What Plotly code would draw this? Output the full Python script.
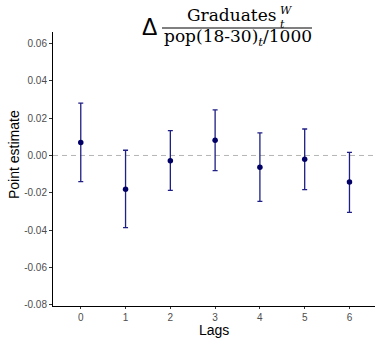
import plotly.graph_objects as go

lags = [0, 1, 2, 3, 4, 5, 6]
estimate = [0.0069, -0.0181, -0.0028, 0.0081, -0.0063, -0.0020, -0.0142]
upper = [0.0281, 0.0028, 0.0133, 0.0244, 0.0121, 0.0142, 0.0017]
lower = [-0.0140, -0.0387, -0.0187, -0.0081, -0.0246, -0.0183, -0.0305]
ytick_vals = [-0.08, -0.06, -0.04, -0.02, 0.00, 0.02, 0.04, 0.06]
ytick_text = ["-0.08", "-0.06", "-0.04", "-0.02", "0.00", "0.02", "0.04", "0.06"]

W, H = 375, 338
L, R, T, B = 53, 0, 32, 32
PW, PH = W - L - R, H - T - B

def px(x):
    return (x - L) / PW

def py(y):
    return (H - B - y) / PH

err_plus = [u - e for u, e in zip(upper, estimate)]
err_minus = [e - l for e, l in zip(estimate, lower)]

fig = go.Figure()
fig.add_trace(go.Scatter(
    x=lags, y=estimate, mode="markers",
    marker=dict(color="#000066", size=5.5),
    error_y=dict(type="data", symmetric=False, array=err_plus, arrayminus=err_minus,
                 color="#1f1f85", thickness=1.3, width=2.5),
    showlegend=False, cliponaxis=False,
))

fig.add_shape(type="line", xref="paper", yref="y", x0=0, x1=1, y0=0, y1=0,
              line=dict(color="#b5b5b5", width=1, dash="5px,4px"), layer="below")

title_font = "DejaVu Serif"
ann = []
ann.append(dict(text="Δ", x=px(149.5), y=py(26.5), xanchor="center",
                font=dict(family="Liberation Sans", size=23, color="black")))
ann.append(dict(text="Graduates", x=px(231.5), y=py(15), xanchor="center",
                font=dict(family=title_font, size=17, color="black")))
ann.append(dict(text="<i>W</i><br><i>t</i>", x=px(277.5), y=py(17), xanchor="left", align="left",
                font=dict(family=title_font, size=11, color="black")))
ann.append(dict(text="pop(18-30)<sub><i>t</i></sub>/1000", x=px(237.5), y=py(37.5), xanchor="center",
                font=dict(family=title_font, size=17, color="black")))
# axis titles
ann.append(dict(text="Lags", x=px(214), y=py(330), xanchor="center", borderpad=0,
                font=dict(family="Liberation Sans", size=14, color="black")))
ann.append(dict(text="Point estimate", x=px(14), y=py(155), xanchor="center", textangle=-90,
                font=dict(family="Liberation Sans", size=14, color="black")))
for a in ann:
    a.update(xref="paper", yref="paper", showarrow=False, yanchor="middle")
fig.add_shape(type="line", xref="paper", yref="paper", x0=px(162), x1=px(312), y0=py(28), y1=py(28),
              line=dict(color="black", width=1))

fig.update_layout(
    width=W, height=H,
    margin=dict(l=L, r=R, t=T, b=B, autoexpand=False),
    paper_bgcolor="white", plot_bgcolor="white",
    annotations=ann,
    font=dict(family="Liberation Sans"),
    xaxis=dict(
        range=[-0.62, 6.57], tickvals=lags, ticktext=[str(v) for v in lags],
        showline=True, linecolor="black", linewidth=1, mirror=False,
        ticks="outside", ticklen=2, tickcolor="#333333", tickwidth=1,
        showgrid=False, zeroline=False, automargin=False,
        tickfont=dict(size=10, color="#4d4d4d"),
    ),
    yaxis=dict(
        range=[-0.0807, 0.0662], tickvals=ytick_vals, ticktext=ytick_text,
        showline=True, linecolor="black", linewidth=1, mirror=False,
        ticks="outside", ticklen=3, tickcolor="#333333", tickwidth=1,
        showgrid=False, zeroline=False, automargin=False,
        tickfont=dict(size=10, color="#4d4d4d"),
    ),
)

fig.write_html("out.html")
